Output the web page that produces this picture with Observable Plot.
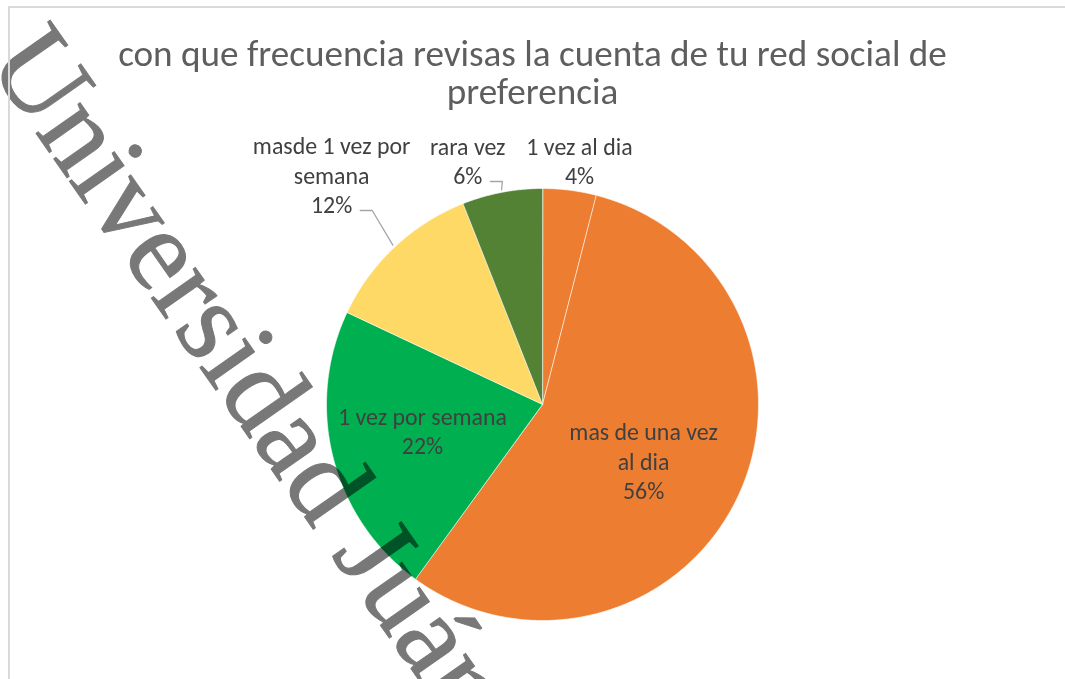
<!DOCTYPE html>
<html><head><meta charset="utf-8">
<script src="https://cdn.jsdelivr.net/npm/d3@7"></script>
<script src="https://cdn.jsdelivr.net/npm/@observablehq/plot@0.6"></script>
<style>
body{margin:0;background:#fff}
#frame{position:relative;width:1065px;height:679px;overflow:hidden;background:#fff;font-family:Carlito,Lato,sans-serif}
#border{position:absolute;left:8px;top:6px;width:1100px;height:700px;border:2px solid #d9d9d9;box-sizing:border-box;pointer-events:none}
#title{height:115px;box-sizing:border-box;padding-top:35px;text-align:center;color:#5e5e5e;line-height:38px;white-space:nowrap}
#chart svg{display:block}
#wm{position:absolute;left:0;top:0;font-family:"Liberation Serif","DejaVu Serif",serif;white-space:nowrap;color:#787878;-webkit-text-stroke:1px #787878;mix-blend-mode:multiply;line-height:1;pointer-events:none}
</style></head>
<body>
<div id="frame">
  <div id="title"></div>
  <div id="chart"></div>
  <div id="wm"></div>
  <div id="border"></div>
</div>
<script>
// ---- data ----
const titleLines = ["con que frecuencia revisas la cuenta de tu red social de", "preferencia"];
const categories = ["1 vez al dia", "mas de una vez al dia", "1 vez por semana", "masde 1 vez por semana", "rara vez"];
const nameLines = ["1 vez al dia", "mas de una vez\nal dia", "1 vez por semana", "masde 1 vez por\nsemana", "rara vez"];
const percents = [4, 56, 22, 12, 6];
const sliceColors = ["#ED7D31", "#ED7D31", "#00B050", "#FFD966", "#548235"];
const watermarkText = "Universidad Juárez";

// ---- layout options ----
const W = 1065, H = 564, R = 216, CX = 542, CY = 289;
const labelRadius = [1.145, 0.535, 0.568, 1.445, 1.183];
const labelTurn = [1.4, 3.8, 2.4, 0.7, -6.2];
const hasLeader = [false, false, false, true, true];
const FONT = "Carlito, Lato, sans-serif";

const ctx = document.createElement("canvas").getContext("2d");
function measure(text, size, family) { ctx.font = `${size}px ${family}`; return ctx.measureText(text).width; }

// title
const titleSize = 100 * 829 / measure(titleLines[0], 100, FONT);
const titleEl = document.getElementById("title");
titleEl.style.fontSize = titleSize + "px";
titleEl.innerHTML = titleLines.map(t => `<div>${t}</div>`).join("");

// label font
const labelSize = 100 * 169 / measure("1 vez por semana", 100, FONT);
const lineH = 29.5 / labelSize;

// pie geometry
const total = d3.sum(percents);
let acc = 0;
const slices = percents.map((p, i) => {
  const a0 = acc / total * 360; acc += p; const a1 = acc / total * 360;
  return {i, key: categories[i], p, a0, a1, mid: (a0 + a1) / 2, color: sliceColors[i]};
});
const rad = d => d * Math.PI / 180;
const polar = (deg, r) => [r * Math.sin(rad(deg)), r * Math.cos(rad(deg))];

const slicePts = [];
for (const s of slices) {
  slicePts.push({key: s.key, color: s.color, x: 0, y: 0});
  const n = Math.max(2, Math.ceil((s.a1 - s.a0) / 0.5));
  for (let k = 0; k <= n; k++) {
    const [x, y] = polar(s.a0 + (s.a1 - s.a0) * k / n, 1);
    slicePts.push({key: s.key, color: s.color, x, y});
  }
}

const labels = slices.map(s => {
  const [x, y] = polar(s.mid + labelTurn[s.i], labelRadius[s.i]);
  return {key: s.key, x, y, text: nameLines[s.i] + "\n" + s.p + "%", lines: nameLines[s.i].split("\n").length + 1, pct: s.p + "%"};
});

const leaderPts = [];
slices.forEach((s, i) => {
  if (!hasLeader[i]) return;
  const L = labels[i];
  const startX = L.x + (measure(L.pct, labelSize, FONT) / 2 + 8) / R;
  const baselinePx = (L.lines - 1) / 2 * lineH * labelSize + 0.32 * labelSize - 1;
  const y0 = L.y - baselinePx / R;
  const [ex, ey] = polar(s.mid, 1.012);
  leaderPts.push({key: s.key, x: startX, y: y0});
  leaderPts.push({key: s.key, x: startX + 12 / R, y: y0});
  leaderPts.push({key: s.key, x: ex, y: ey});
});

const chart = Plot.plot({
  width: W, height: H,
  marginLeft: 0, marginRight: 0, marginTop: 0, marginBottom: 0,
  x: {domain: [-CX / R, (W - CX) / R], axis: null},
  y: {domain: [-(H - CY) / R, CY / R], axis: null},
  color: {type: "identity"},
  style: {background: "transparent"},
  marks: [
    Plot.line(slicePts, {x: "x", y: "y", z: "key", fill: "color", stroke: "#ffffff", strokeWidth: 0.8, strokeOpacity: 0.75, curve: "linear-closed"}),
    Plot.line(leaderPts, {x: "x", y: "y", z: "key", stroke: "#a6a6a6", strokeWidth: 1.3}),
    Plot.text(labels, {x: "x", y: "y", text: "text", fill: "#404040", fontSize: labelSize, lineHeight: lineH, fontFamily: FONT, lineAnchor: "middle", textAnchor: "middle"})
  ]
});
document.getElementById("chart").appendChild(chart);

// watermark
const wmSize = 117, wmAngle = 55, PX = -14, PY = 62;
const wm = document.getElementById("wm");
wm.textContent = watermarkText;
wm.style.fontSize = wmSize + "px";
const base = 0.8375 * wmSize;
wm.style.left = PX + "px";
wm.style.top = (PY - base) + "px";
wm.style.transformOrigin = `0 ${base}px`;
wm.style.transform = `rotate(${wmAngle}deg)`;
</script>
</body></html>
